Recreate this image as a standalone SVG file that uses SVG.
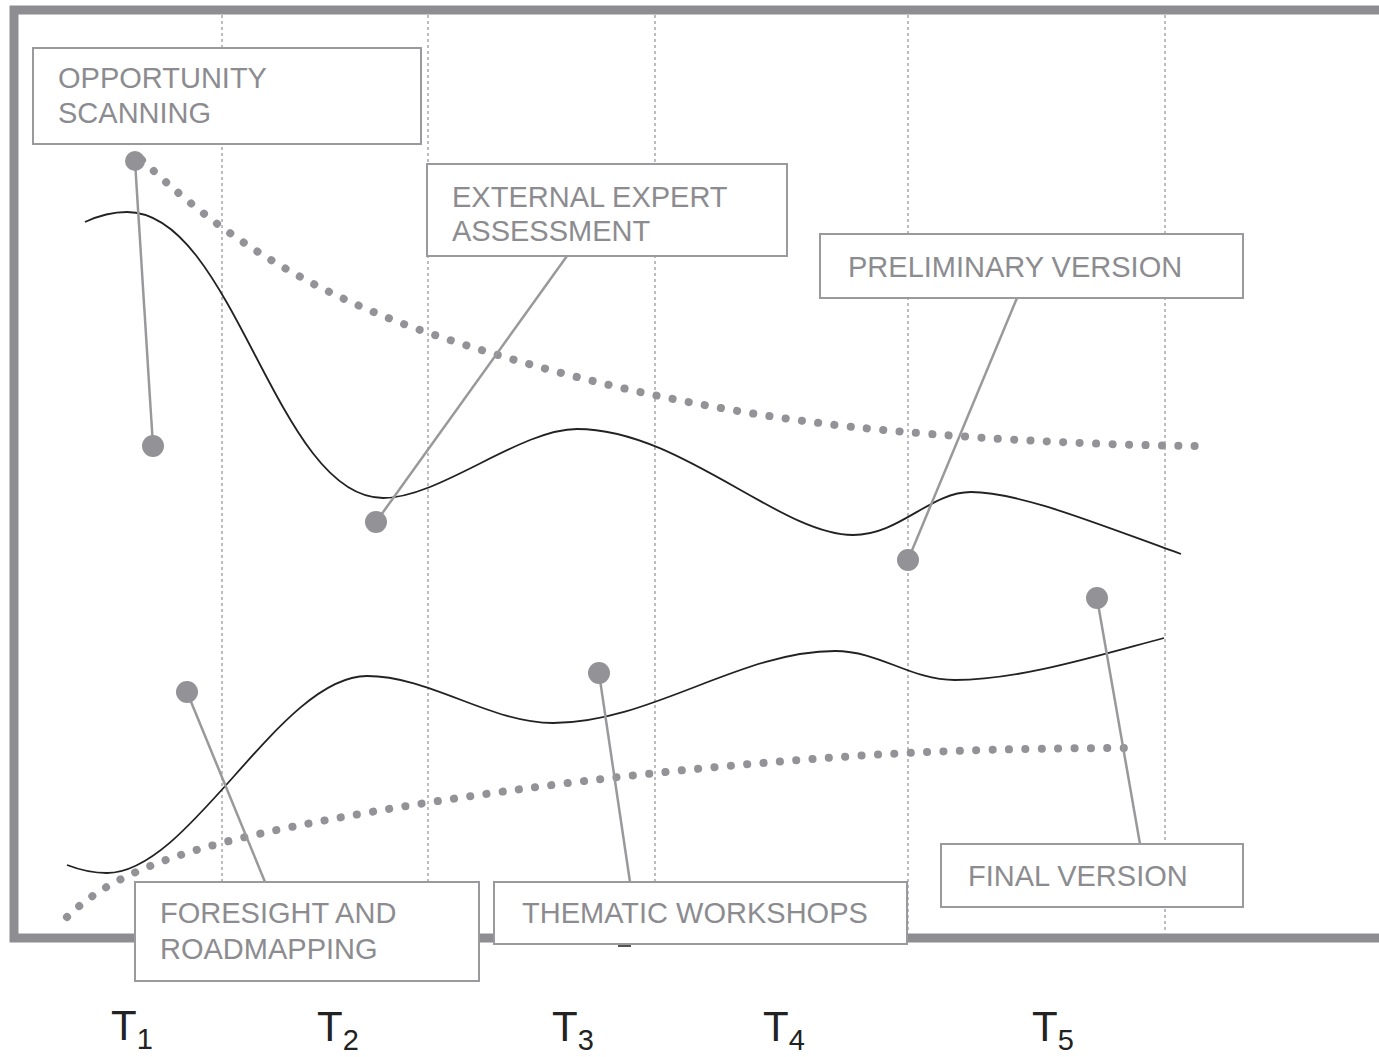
<svg xmlns="http://www.w3.org/2000/svg" width="1379" height="1057" viewBox="0 0 1379 1057">
<style>
.frame{fill:none;stroke:#8e8e92;stroke-width:9}
.grid{fill:none;stroke:#bdbdbd;stroke-width:2;stroke-dasharray:3 3}
.solid{fill:none;stroke:#222;stroke-width:1.8}
.dotted{fill:none;stroke:#939397;stroke-width:8;stroke-linecap:round;stroke-dasharray:0.1 16.3}
.conn{fill:none;stroke:#99999c;stroke-width:2.5}
.pin{fill:#939397}
.box{fill:#fff;stroke:#9a9a9e;stroke-width:2}
.lbl{font-family:"Liberation Sans",Arial,sans-serif;font-size:29px;fill:#8c8c90}
.t{font-family:"Liberation Sans",Arial,sans-serif;font-size:42px;fill:#222}
.sub{font-size:29px}
</style>
<rect x="0" y="0" width="1379" height="1057" fill="#fff"/>
<rect class="frame" x="14" y="10" width="1400" height="928"/>
<g id="gridlines">
<line class="grid" x1="222" y1="15" x2="222" y2="934"/>
<line class="grid" x1="428" y1="15" x2="428" y2="934"/>
<line class="grid" x1="655" y1="15" x2="655" y2="934"/>
<line class="grid" x1="908" y1="15" x2="908" y2="934"/>
<line class="grid" x1="1165" y1="15" x2="1165" y2="934"/>
</g>
<g id="curves">
<path class="solid" d="M85,222 C100,215 115,212 127,212 C234,212 276,498 383,498 C440,498 520,429 577,429 C680,429 780,535 853,535 C900,535 930,492 971,492 C1020,492 1100,525 1181,554"/>
<path class="solid" d="M67,865 C80,870 95,873 107,873 C190,873 280,676 367,676 C430,676 490,723 553,723 C650,723 740,651 835,651 C880,651 910,680 955,680 C1020,680 1100,655 1164,638"/>
<path class="dotted" d="M142,160 C200,215 280,280 420,330 C560,378 700,410 853,427 C950,437 1080,445 1200,446"/>
<path class="dotted" d="M67,917 C95,890 140,860 263,833 C400,803 600,775 800,760 C900,752 1000,748 1130,748"/>
</g>
<rect x="618" y="943" width="13" height="4" fill="#555"/>
<g id="connectors">
<line class="conn" x1="135" y1="161" x2="153" y2="446"/>
<line class="conn" x1="567" y1="256" x2="376" y2="522"/>
<line class="conn" x1="1017" y1="298" x2="908" y2="560"/>
<line class="conn" x1="265" y1="882" x2="187" y2="692"/>
<line class="conn" x1="630" y1="882" x2="599" y2="673"/>
<line class="conn" x1="1140" y1="844" x2="1097" y2="598"/>
<circle class="pin" cx="135" cy="161" r="10"/>
<circle class="pin" cx="153" cy="446" r="11"/>
<circle class="pin" cx="376" cy="522" r="11"/>
<circle class="pin" cx="908" cy="560" r="11"/>
<circle class="pin" cx="187" cy="692" r="11"/>
<circle class="pin" cx="599" cy="673" r="11"/>
<circle class="pin" cx="1097" cy="598" r="11"/>
</g>
<g id="opportunity-scanning">
<rect class="box" x="33" y="48" width="388" height="96"/>
<text class="lbl" x="58" y="88">OPPORTUNITY</text>
<text class="lbl" x="58" y="123">SCANNING</text>
</g>
<g id="external-expert-assessment">
<rect class="box" x="427" y="164" width="360" height="92"/>
<text class="lbl" x="452" y="207">EXTERNAL EXPERT</text>
<text class="lbl" x="452" y="241">ASSESSMENT</text>
</g>
<g id="preliminary-version">
<rect class="box" x="820" y="234" width="423" height="64"/>
<text class="lbl" x="848" y="277">PRELIMINARY VERSION</text>
</g>
<g id="foresight-roadmapping">
<rect class="box" x="135" y="882" width="344" height="99"/>
<text class="lbl" x="160" y="923">FORESIGHT AND</text>
<text class="lbl" x="160" y="959">ROADMAPPING</text>
</g>
<g id="thematic-workshops">
<rect class="box" x="494" y="882" width="413" height="62"/>
<text class="lbl" x="522" y="923">THEMATIC WORKSHOPS</text>
</g>
<g id="final-version">
<rect class="box" x="941" y="844" width="302" height="63"/>
<text class="lbl" x="968" y="886">FINAL VERSION</text>
</g>
<g id="time-axis">
<text class="t" x="111" y="1040">T<tspan class="sub" dy="9">1</tspan></text>
<text class="t" x="317" y="1041">T<tspan class="sub" dy="9">2</tspan></text>
<text class="t" x="552" y="1041">T<tspan class="sub" dy="9">3</tspan></text>
<text class="t" x="763" y="1041">T<tspan class="sub" dy="9">4</tspan></text>
<text class="t" x="1032" y="1041">T<tspan class="sub" dy="9">5</tspan></text>
</g>
</svg>
